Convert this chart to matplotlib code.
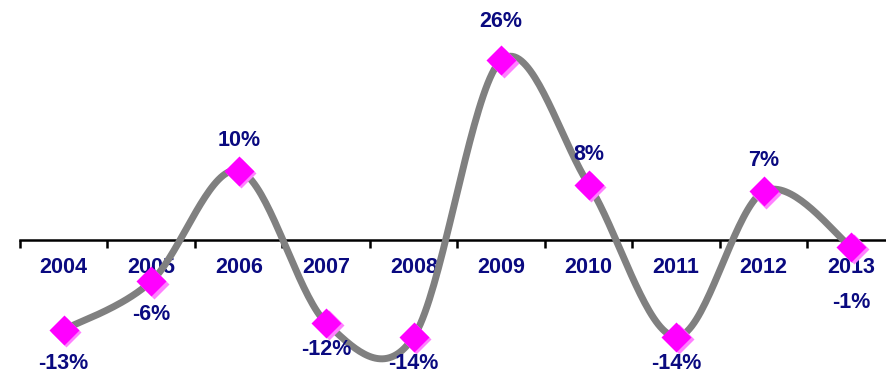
import matplotlib.pyplot as plt
import matplotlib.transforms as mtransforms
import numpy as np

years = ['2004', '2005', '2006', '2007', '2008', '2009', '2010', '2011', '2012', '2013']
growth = [-13, -6, 10, -12, -14, 26, 8, -14, 7, -1]

label_color = '#0a0a80'
# label offsets (points) that differ from the default above/below placement
label_shift = {0: -24, 1: -24, 5: 28, 9: -40}


def smooth_curve(x, y, steps=40):
    # Bezier segments with Catmull-Rom style control points
    x = np.asarray(x, dtype=float)
    y = np.asarray(y, dtype=float)
    px = np.concatenate([[x[0]], x, [x[-1]]])
    py = np.concatenate([[y[0]], y, [y[-1]]])
    xs, ys = [], []
    t = np.linspace(0, 1, steps)
    for i in range(len(x) - 1):
        p0 = np.array([px[i + 1], py[i + 1]])
        p3 = np.array([px[i + 2], py[i + 2]])
        c1 = p0 + (np.array([px[i + 2], py[i + 2]]) - np.array([px[i], py[i]])) / 6
        c2 = p3 - (np.array([px[i + 3], py[i + 3]]) - np.array([px[i + 1], py[i + 1]])) / 6
        pts = ((1 - t) ** 3)[:, None] * p0 + (3 * (1 - t) ** 2 * t)[:, None] * c1 \
            + (3 * (1 - t) * t ** 2)[:, None] * c2 + (t ** 3)[:, None] * p3
        xs.extend(pts[:, 0])
        ys.extend(pts[:, 1])
    return np.array(xs), np.array(ys)


fig = plt.figure(figsize=(8.87, 3.74), dpi=100)
ax = fig.add_axes([20 / 887, 0, 867 / 887, 1])

x = np.arange(len(years))
cx, cy = smooth_curve(x, growth)
ax.plot(cx, cy, color='#808080', lw=5, solid_capstyle='round', zorder=2)

# diamond markers with a soft shadow
shadow = ax.transData + mtransforms.ScaledTranslation(2.5 / 100, -2.5 / 100, fig.dpi_scale_trans)
ax.plot(x, growth, ls='none', marker='D', ms=15, color='#ff80ff', mec='none',
        transform=shadow, zorder=3)
ax.plot(x, growth, ls='none', marker='D', ms=15, color='#ff00ff', mec='none', zorder=4)

for i, v in enumerate(growth):
    dy = label_shift.get(i, 22 if v >= 0 else -19)
    ax.annotate(f'{v}%', (i, v), xytext=(0, dy), textcoords='offset points',
                ha='center', va='center', fontsize=15.5, fontweight='bold',
                family='Liberation Sans', color=label_color, zorder=5,
                annotation_clip=False)

ax.set_xlim(-0.5, 9.41)
ax.set_ylim(-19.4, 34.7)

for s in ['top', 'left', 'right']:
    ax.spines[s].set_visible(False)
ax.spines['bottom'].set_position(('data', 0))
ax.spines['bottom'].set_linewidth(1.8)
ax.spines['bottom'].set_zorder(1)
ax.set_yticks([])

ax.set_xticks(x)
ax.set_xticklabels(years, fontsize=15.5, fontweight='bold', family='Liberation Sans',
                   color=label_color)
ax.set_xticks(np.arange(-0.5, 9, 1), minor=True)
ax.tick_params(axis='x', which='major', length=0, pad=12)
ax.tick_params(axis='x', which='minor', length=6, width=1.8, direction='out')

fig.savefig('out.png', dpi=100)
